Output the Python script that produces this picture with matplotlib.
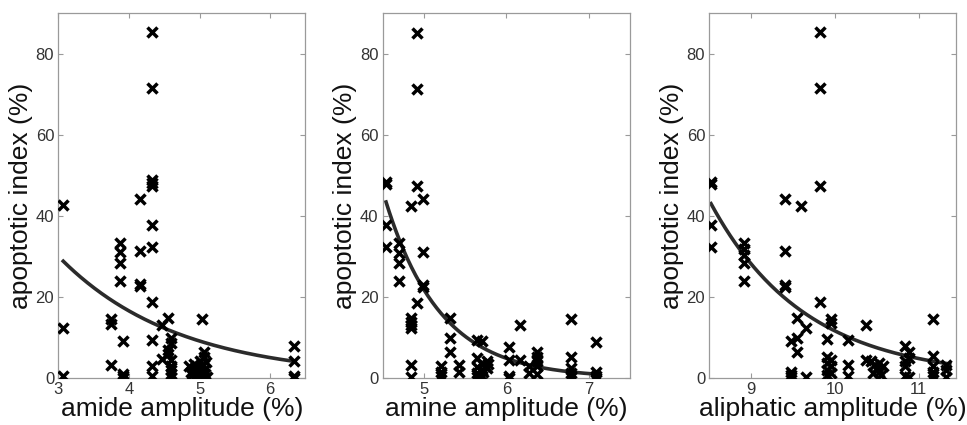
import numpy as np
import matplotlib
matplotlib.use("Agg")
import matplotlib.pyplot as plt

plt.rcParams['font.family'] = ['Liberation Sans', 'DejaVu Sans']

# ---------------- data ----------------
amide_x = [3.07, 3.07, 3.07,
           3.75, 3.75, 3.75,
           3.88, 3.88, 3.88, 3.88,
           3.92, 3.92, 3.92, 3.92,
           4.15, 4.15, 4.15, 4.15,
           4.33, 4.33, 4.33, 4.33, 4.33, 4.33, 4.33, 4.33, 4.33, 4.33, 4.33,
           4.47, 4.47,
           4.55, 4.55, 4.55,
           4.60, 4.60, 4.60, 4.60, 4.60, 4.60, 4.60,
           4.85, 4.88, 4.90, 4.92, 4.95, 4.97, 4.98, 5.00, 5.00, 5.02, 5.04, 5.05, 5.07, 5.08, 5.09, 5.10,
           5.03, 5.07, 5.07,
           6.34, 6.34, 6.34, 6.34]
amide_y = [42.6, 12.3, 0.4,
           14.5, 13.3, 3.3,
           33.3, 31.1, 28.3, 23.9,
           9.0, 1.0, 0.5, 0.0,
           44.2, 31.4, 23.3, 22.7,
           85.2, 71.5, 48.7, 48.1, 47.3, 37.7, 32.4, 18.8, 9.3, 3.0, 0.6,
           13.1, 4.7,
           14.7, 7.0, 5.9,
           9.8, 8.6, 4.5, 3.0, 2.0, 1.0, 0.3,
           2.9, 1.6, 0.8, 3.5, 2.2, 1.0, 0.3, 4.2, 2.6, 1.4, 0.5, 3.3, 2.0, 0.9, 4.0, 0.2,
           14.5, 6.5, 5.3,
           7.8, 4.1, 0.4, 0.0]

amine_x = [4.54, 4.54, 4.54, 4.54,
           4.70, 4.70, 4.70, 4.70,
           4.84, 4.84, 4.84, 4.84, 4.84, 4.84, 4.84,
           4.92, 4.92, 4.92, 4.92,
           4.99, 4.99, 4.99, 4.99,
           5.21, 5.21, 5.21,
           5.32, 5.32, 5.32,
           5.42, 5.42,
           5.65, 5.65, 5.65, 5.65, 5.65,
           5.70, 5.70, 5.70, 5.70, 5.72, 5.74,
           5.76, 5.76, 5.78,
           6.03, 6.03, 6.03, 6.03,
           6.16, 6.16,
           6.28, 6.28,
           6.37, 6.37, 6.37, 6.37, 6.37,
           6.79, 6.79, 6.79, 6.79, 6.79,
           7.09, 7.09, 7.09, 7.09]
amine_y = [48.3, 47.8, 37.7, 32.2,
           33.3, 30.7, 28.3, 23.8,
           42.4, 14.7, 13.9, 13.1, 12.3, 3.3, 0.2,
           85.0, 71.3, 47.3, 18.6,
           44.1, 31.1, 22.9, 22.4,
           2.9, 1.6, 0.6,
           14.7, 9.8, 6.5,
           3.3, 1.6,
           9.4, 4.9, 2.8, 1.2, 0.3,
           9.0, 3.5, 2.0, 0.6, 1.5, 3.0,
           4.1, 2.4, 3.4,
           7.6, 4.5, 0.4, 0.0,
           13.1, 4.5,
           2.9, 1.2,
           6.5, 5.3, 4.1, 2.9, 1.0,
           14.5, 5.3, 2.5, 1.2, 0.2,
           8.8, 1.5, 0.6, 0.0]

aliph_x = [8.52, 8.52, 8.52, 8.52,
           8.91, 8.91, 8.91, 8.91, 8.91,
           9.40, 9.40, 9.40, 9.40,
           9.47, 9.47, 9.47, 9.47,
           9.55, 9.55, 9.55,
           9.60, 9.65, 9.65,
           9.82, 9.82, 9.82, 9.82,
           9.91, 9.91, 9.91, 9.91, 9.91,
           9.95, 9.95, 9.95, 9.95, 9.95,
           10.16, 10.16, 10.16,
           10.37, 10.37,
           10.43, 10.47, 10.50, 10.52, 10.55, 10.57, 10.45, 10.53,
           10.83, 10.83, 10.83, 10.83,
           10.88, 10.88, 10.88,
           11.17, 11.17, 11.17, 11.17, 11.17,
           11.32, 11.32, 11.32]
aliph_y = [48.3, 47.8, 37.7, 32.2,
           33.3, 31.9, 30.3, 28.3, 23.8,
           44.2, 31.4, 22.9, 22.4,
           9.0, 1.6, 0.8, 0.2,
           14.7, 9.8, 6.5,
           42.4, 12.3, 0.2,
           85.2, 71.5, 47.3, 18.8,
           9.7, 5.3, 3.7, 2.0, 0.8,
           14.5, 13.5, 4.5, 2.9, 1.2,
           9.3, 3.3, 0.6,
           13.1, 4.5,
           4.1, 3.3, 2.5, 1.6, 0.8, 2.9, 1.2, 3.6,
           7.8, 4.1, 2.9, 0.4,
           6.5, 4.9, 0.2,
           14.5, 5.5, 2.9, 1.6, 0.4,
           3.3, 2.0, 0.2]

# exponential fit parameters: y = a * exp(b * (x - x0))
fit_amide = dict(x0=3.07, x1=6.34, a=28.8, b=-0.596)
fit_amine = dict(x0=4.54, x1=7.09, a=43.4, b=-1.50)
fit_aliph = dict(x0=8.52, x1=11.37, a=43.0, b=-0.885)

panels = [
    (amide_x, amide_y, fit_amide, "amide amplitude (%)", (3, 6.5), [3, 4, 5, 6]),
    (amine_x, amine_y, fit_amine, "amine amplitude (%)", (4.5, 7.5), [5, 6, 7]),
    (aliph_x, aliph_y, fit_aliph, "aliphatic amplitude (%)", (8.5, 11.45), [9, 10, 11]),
]

y_ticks = [0, 20, 40, 60, 80]

# ---------------- figure ----------------
fig = plt.figure(figsize=(9.67, 4.25), dpi=100)
lefts = [0.0603, 0.3958, 0.7335]
width = 0.2556
bottom = 0.1106
height = 0.8588

spine_col = '#9a9a9a'
for (xs, ys, fit, xlabel, xlim, xt), left in zip(panels, lefts):
    ax = fig.add_axes([left, bottom, width, height])
    xx = np.linspace(fit['x0'], fit['x1'], 200)
    ax.plot(xx, fit['a'] * np.exp(fit['b'] * (xx - fit['x0'])),
            color='#2b2b2b', lw=2.6, zorder=2)
    ax.plot(xs, ys, linestyle='none', marker='x', color='black',
            markersize=6.8, markeredgewidth=2.5, zorder=3)
    ax.set_xlim(*xlim)
    ax.set_ylim(0, 90)
    ax.set_xticks(xt)
    ax.set_yticks(y_ticks)
    ax.tick_params(direction='in', length=3.5, width=0.8, color=spine_col,
                   top=True, right=True, labelsize=12, labelcolor='#333333', pad=3)
    for s in ax.spines.values():
        s.set_color(spine_col)
        s.set_linewidth(0.9)
    ax.set_xlabel(xlabel, fontsize=19, color='#111111', labelpad=0)
    ax.set_ylabel("apoptotic index (%)", fontsize=19, color='#111111', labelpad=2)

fig.savefig("out.png", dpi=100)
